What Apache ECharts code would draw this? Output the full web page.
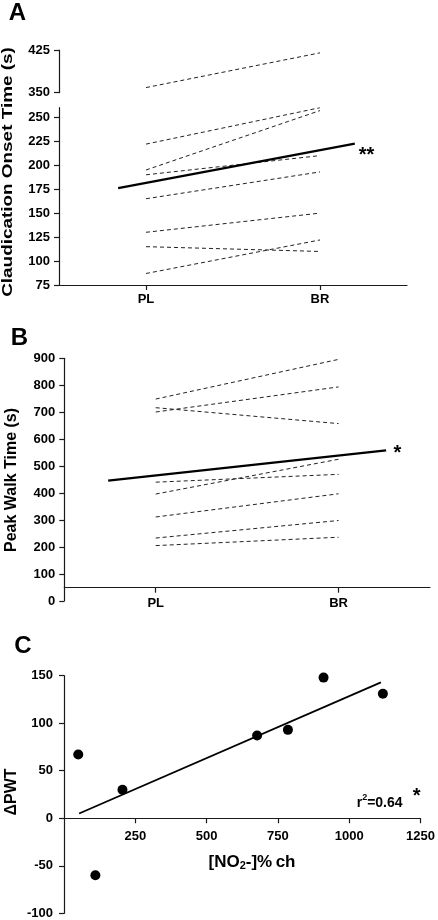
<!DOCTYPE html>
<html><head><meta charset="utf-8">
<script src="https://cdn.jsdelivr.net/npm/echarts@6/dist/echarts.min.js"></script>
<style>html,body{margin:0;padding:0;background:#fff}#c{width:438px;height:920px}</style>
</head><body><div id="c"></div>
<script>
// ---------- DATA ----------
const conditions = ['PL', 'BR'];
// Panel A: claudication onset time (s), one pair per participant
const onsetPL = [359, 222, 195, 190, 165, 130, 115, 87];
const onsetBR = [420, 260, 257, 210, 193, 150, 110, 122];
const onsetMeanX = [0.84, 2.2];     // solid group line, x in category units (PL=1, BR=2)
const onsetMeanY = [176, 222.5];
const onsetBreak = 350;             // values >= this are drawn in the upper (broken) segment
// Panel B: peak walk time (s)
const pwtPL = [749, 717, 701, 441, 397, 312, 234, 206];
const pwtBR = [896, 658, 794, 470, 526, 398, 299, 237];
const pwtMeanX = [0.74, 2.26];
const pwtMeanY = [447, 559];
// Panel C: change in PWT vs [NO2-] % change
const no2Change = [50, 110, 205, 677, 785, 910, 1118];
const deltaPWT = [67, -60, 30, 87, 93, 148, 131];
const fitX = [53, 1111];
const fitY = [5, 143];

// ---------- CHART ----------
const FONT = '"Liberation Sans", Arial, sans-serif';
const AX = '#1a1a1a';
const lbl = (extra) => Object.assign({fontFamily: FONT, fontWeight: 'bold', fontSize: 13, color: '#000'}, extra || {});
const axLine = {show: true, lineStyle: {color: AX, width: 1.2}};
const axTick = {show: true, length: 5, lineStyle: {color: AX, width: 1.2}};

const mctx = document.createElement('canvas').getContext('2d');
function tw(t, size) { mctx.font = 'bold ' + size + 'px ' + FONT; return mctx.measureText(t).width; }

const grids = [
  {left: 59, top: 50, width: 348, height: 42.7},
  {left: 59, top: 107.7, width: 348, height: 177.3},
  {left: 64.3, top: 358.3, width: 365.7, height: 229.4},
  {left: 64.3, top: 358.3, width: 365.7, height: 242.7},
  {left: 64, top: 675.7, width: 359, height: 237.6}
];
// panel C: y range -100..150 over 237.6 px -> zero line sits 100 units above the bottom
const cZeroOffset = -(237.6 * 100 / 250);

const xAxes = [
  {gridIndex: 0, type: 'category', data: conditions, show: false},
  {gridIndex: 1, type: 'category', data: conditions, boundaryGap: true,
   axisLine: axLine, axisTick: Object.assign({alignWithLabel: true}, axTick),
   axisLabel: lbl({margin: 8}), splitLine: {show: false}},
  {gridIndex: 1, type: 'value', min: 0.5, max: 2.5, show: false, position: 'top'},
  {gridIndex: 2, type: 'category', data: conditions, boundaryGap: true,
   axisLine: axLine, axisTick: Object.assign({alignWithLabel: true}, axTick),
   axisLabel: lbl({margin: 9}), splitLine: {show: false}},
  {gridIndex: 2, type: 'value', min: 0.5, max: 2.5, show: false, position: 'top'},
  {gridIndex: 3, type: 'value', min: 0.5, max: 2.5, show: false},
  {gridIndex: 4, type: 'value', min: 0, max: 1250, interval: 250, position: 'bottom',
   offset: cZeroOffset,
   axisLine: Object.assign({onZero: false}, axLine), axisTick: axTick,
   axisLabel: lbl({margin: 12, showMinLabel: false, formatter: v => String(v)}), splitLine: {show: false}}
];

const yAxes = [
  {gridIndex: 0, type: 'value', min: 350, max: 425, interval: 75,
   axisLine: axLine, axisTick: axTick, axisLabel: lbl({margin: 9}), splitLine: {show: false}},
  {gridIndex: 1, type: 'value', min: 75, max: 260, interval: 25,
   axisLine: axLine, axisTick: axTick, axisLabel: lbl({margin: 9, showMaxLabel: false}), splitLine: {show: false}},
  {gridIndex: 2, type: 'value', min: 50, max: 900, show: false},
  {gridIndex: 3, type: 'value', min: 0, max: 900, interval: 100,
   axisLine: axLine, axisTick: axTick, axisLabel: lbl({margin: 9}), splitLine: {show: false}},
  {gridIndex: 4, type: 'value', min: -100, max: 150, interval: 50,
   axisLine: Object.assign({onZero: false}, axLine), axisTick: axTick, axisLabel: lbl({margin: 11}), splitLine: {show: false}}
];

const dashStyle = {type: [4, 3], width: 1, color: '#222'};
const series = [];
onsetPL.forEach((v, i) => {
  const up = v >= onsetBreak;
  series.push({type: 'line', xAxisIndex: up ? 0 : 1, yAxisIndex: up ? 0 : 1,
    data: [v, onsetBR[i]], symbol: 'none', silent: true, lineStyle: dashStyle});
});
series.push({type: 'line', xAxisIndex: 2, yAxisIndex: 1, symbol: 'none', silent: true,
  data: onsetMeanX.map((x, i) => [x, onsetMeanY[i]]), lineStyle: {width: 2.2, color: '#000'}});
pwtPL.forEach((v, i) => {
  series.push({type: 'line', xAxisIndex: 3, yAxisIndex: 2,
    data: [v, pwtBR[i]], symbol: 'none', silent: true, lineStyle: dashStyle});
});
series.push({type: 'line', xAxisIndex: 4, yAxisIndex: 2, symbol: 'none', silent: true,
  data: pwtMeanX.map((x, i) => [x, pwtMeanY[i]]), lineStyle: {width: 2.2, color: '#000'}});
series.push({type: 'line', xAxisIndex: 6, yAxisIndex: 4, symbol: 'none', silent: true,
  data: fitX.map((x, i) => [x, fitY[i]]), lineStyle: {width: 1.8, color: '#000'}});
series.push({type: 'scatter', xAxisIndex: 6, yAxisIndex: 4, symbol: 'circle', symbolSize: 10,
  silent: true, itemStyle: {color: '#000', opacity: 1},
  data: no2Change.map((x, i) => [x, deltaPWT[i]])});

function txt(text, x, y, size, opts) {
  opts = opts || {};
  return Object.assign({type: 'text', x: x, y: y, silent: true,
    style: {text: text, font: (opts.weight || 'bold') + ' ' + size + 'px ' + FONT, fill: '#000',
      textAlign: opts.align || 'center', textVerticalAlign: 'middle'}}, opts.el || {});
}
function pieces(list, x0, yMid) {
  const out = []; let x = x0;
  list.forEach(p => {
    out.push(txt(p.t, x, yMid + (p.dy || 0), p.s, {align: 'left'}));
    x += tw(p.t, p.s);
  });
  return out;
}
const xTitle = [{t: '[NO', s: 17}, {t: '2', s: 11, dy: 4}, {t: '-]%\u2009ch', s: 17}];
const xTitleW = xTitle.reduce((a, p) => a + tw(p.t, p.s), 0);

const graphic = [
  txt('A', 17.5, 13.5, 24),
  txt('B', 19.5, 338.5, 24),
  txt('C', 23, 646.5, 24),
  txt('Claudication Onset Time (s)', 8, 172, 15, {el: {rotation: Math.PI / 2, scaleX: 1.26}}),
  txt('Peak Walk Time (s)', 11.5, 480, 16, {el: {rotation: Math.PI / 2}}),
  txt('\u0394PWT', 12, 792, 16, {el: {rotation: Math.PI / 2}}),
  txt('**', 366.5, 155, 20),
  txt('*', 397.5, 453, 20),
  txt('*', 416.7, 796.5, 20)
].concat(pieces(xTitle, 252 - xTitleW / 2, 862))
 .concat(pieces([{t: 'r', s: 14}, {t: '2', s: 9, dy: -5}, {t: '=0.64', s: 14}], 356.7, 803));

const chart = echarts.init(document.getElementById('c'), null, {renderer: 'canvas'});
chart.setOption({
  animation: false,
  backgroundColor: '#fff',
  grid: grids, xAxis: xAxes, yAxis: yAxes, series: series, graphic: graphic
});
</script></body></html>
